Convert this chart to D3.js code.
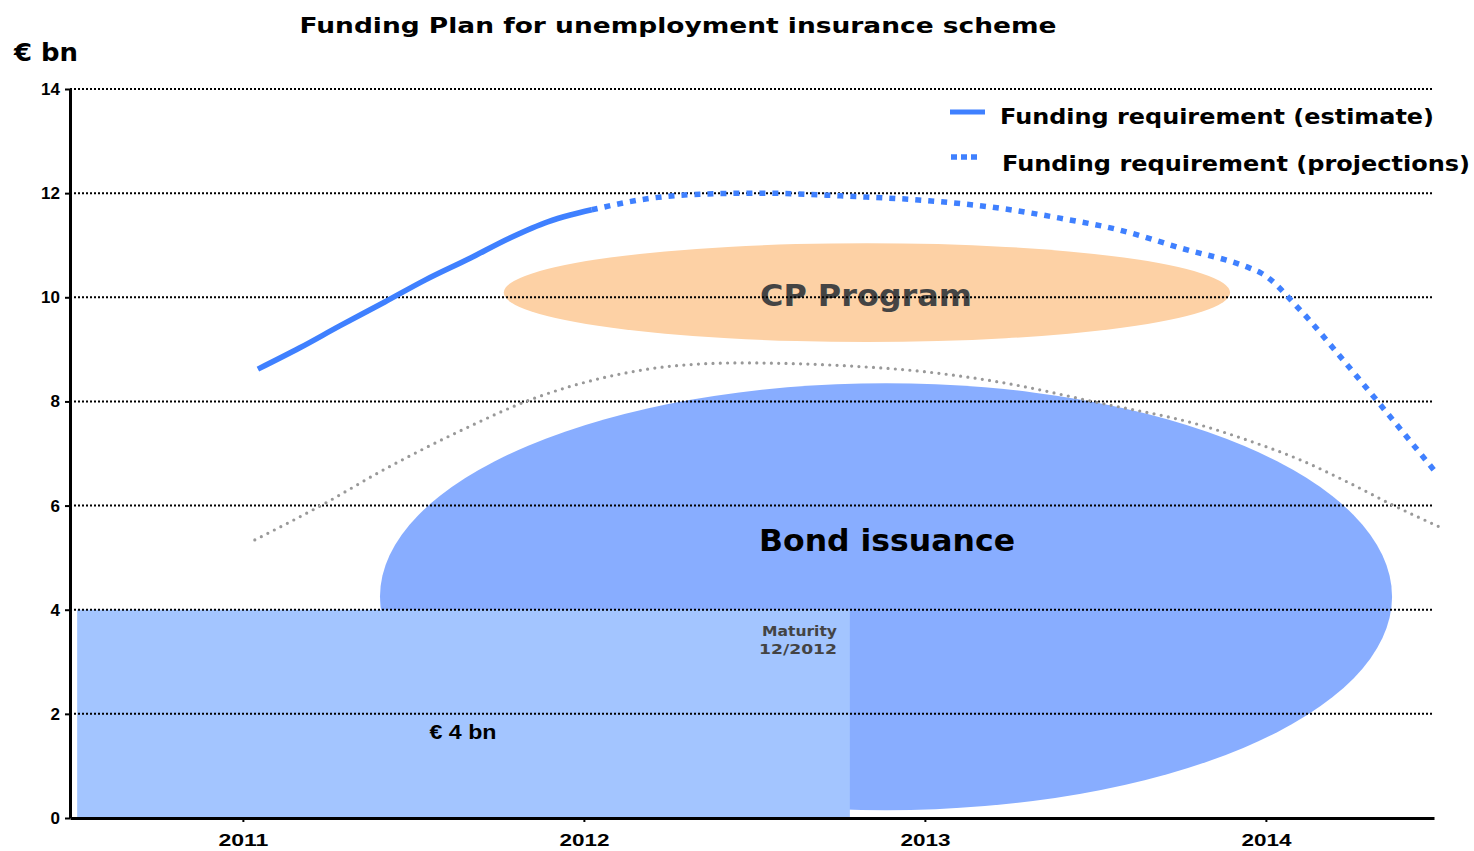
<!DOCTYPE html>
<html>
<head>
<meta charset="utf-8">
<script src="https://cdn.jsdelivr.net/npm/d3@7"></script>
<style>
  body { margin: 0; background: #fff; }
  svg { display: block; font-family: "DejaVu Sans", Verdana, sans-serif; font-weight: bold; }
</style>
</head>
<body>
<svg></svg>
<script>
const width = 1474;
const height = 851;
const margin = { top: 89, right: 40, bottom: 33, left: 70 };

// Year ticks and y ticks
const years = [2011, 2012, 2013, 2014];
const yTicks = [0, 2, 4, 6, 8, 10, 12, 14];

// Funding requirement (estimate) - solid
const estYears = [2011.044, 2011.167, 2011.284, 2011.416, 2011.534, 2011.666, 2011.783, 2011.894, 2011.96, 2012.023];
const estValues = [8.62, 9.03, 9.45, 9.91, 10.33, 10.75, 11.14, 11.45, 11.58, 11.68];

// Funding requirement (projections) - dotted
const projYears = [2012.023, 2012.194, 2012.34, 2012.516, 2012.78, 2013.0, 2013.22, 2013.396, 2013.572, 2013.748, 2013.953, 2013.985, 2014.1, 2014.217, 2014.334, 2014.493];
const projValues = [11.68, 11.9, 11.98, 12.0, 11.94, 11.86, 11.71, 11.52, 11.29, 10.95, 10.56, 10.47, 9.76, 8.87, 7.95, 6.68];

// Grey dotted curve
const greyYears = [2011.035, 2011.226, 2011.422, 2011.636, 2011.85, 2012.067, 2012.261, 2012.457, 2012.78, 2013.0, 2013.22, 2013.513, 2013.806, 2013.953, 2014.1, 2014.246, 2014.372, 2014.516];
const greyValues = [5.34, 5.99, 6.72, 7.43, 8.05, 8.47, 8.68, 8.74, 8.68, 8.57, 8.37, 7.97, 7.55, 7.24, 6.88, 6.43, 6.01, 5.57];

// Existing € 4 bn block (years, value)
const blockYears = [2010.514, 2012.78];
const blockValue = 4;

// Ellipses: [centre year, centre value, radius in years, radius in value]
const bondEllipse = [2012.886, 4.25, 1.484, 4.1];
const cpEllipse = [2012.83, 10.09, 1.065, 0.95];

const svg = d3.select("svg").attr("width", width).attr("height", height);

const x = d3.scaleLinear()
  .domain([2010.493, 2014.493])
  .range([margin.left, width - margin.right]);

const y = d3.scaleLinear()
  .domain([0, 14])
  .range([height - margin.bottom, margin.top]);

// Verdana is wider than DejaVu, so stretch text to the reference widths
function label(txt, px, py, size, len, anchor, fill) {
  return svg.append("text")
    .attr("x", px)
    .attr("y", py)
    .attr("text-anchor", anchor || "start")
    .attr("textLength", len)
    .attr("lengthAdjust", "spacingAndGlyphs")
    .style("font-size", size + "px")
    .attr("fill", fill || "#000")
    .text(txt);
}

// Bond issuance ellipse
svg.append("ellipse")
  .attr("cx", x(bondEllipse[0]))
  .attr("cy", y(bondEllipse[1]))
  .attr("rx", x(bondEllipse[0] + bondEllipse[2]) - x(bondEllipse[0]))
  .attr("ry", y(0) - y(bondEllipse[3]))
  .attr("fill", "#88adff");

// € 4 bn block
svg.append("rect")
  .attr("x", x(blockYears[0]))
  .attr("y", y(blockValue))
  .attr("width", x(blockYears[1]) - x(blockYears[0]))
  .attr("height", y(0) - y(blockValue))
  .attr("fill", "#a3c5ff");

// CP Program ellipse
svg.append("ellipse")
  .attr("cx", x(cpEllipse[0]))
  .attr("cy", y(cpEllipse[1]))
  .attr("rx", x(cpEllipse[0] + cpEllipse[2]) - x(cpEllipse[0]))
  .attr("ry", y(0) - y(cpEllipse[3]))
  .attr("fill", "#fdd1a5");

// Labels inside shapes
label("CP Program", 866, 306, 30, 212, "middle", "#444");
label("Bond issuance", 887, 551, 30, 256, "middle");
label("€ 4 bn", 463, 739, 21, 67, "middle")
  .style("font-family", "'Liberation Sans', Arial, sans-serif");
label("Maturity", 837, 636, 14, 75, "end", "#444");
label("12/2012", 837, 654, 14, 78, "end", "#444");

// Dotted grid lines
svg.append("g")
  .selectAll("line")
  .data(yTicks.filter((d) => d > 0))
  .join("line")
  .attr("x1", margin.left)
  .attr("x2", width - margin.right)
  .attr("y1", (d) => y(d))
  .attr("y2", (d) => y(d))
  .attr("stroke", "#000")
  .attr("stroke-width", 2)
  .attr("stroke-dasharray", "2,2");

// Grey dotted curve
const line = d3.line()
  .x((d) => x(d[0]))
  .y((d) => y(d[1]))
  .curve(d3.curveMonotoneX);

svg.append("path")
  .attr("d", line(d3.zip(greyYears, greyValues)))
  .attr("fill", "none")
  .attr("stroke", "#999")
  .attr("stroke-width", 3.2)
  .attr("stroke-linecap", "round")
  .attr("stroke-dasharray", "0,7.3");

// Funding requirement lines
svg.append("path")
  .attr("d", line(d3.zip(estYears, estValues)))
  .attr("fill", "none")
  .attr("stroke", "#3f80ff")
  .attr("stroke-width", 5.5);

svg.append("path")
  .attr("d", line(d3.zip(projYears, projValues)))
  .attr("fill", "none")
  .attr("stroke", "#3f80ff")
  .attr("stroke-width", 5.5)
  .attr("stroke-dasharray", "6,7");

// Axes
const xAxis = svg.append("g")
  .attr("transform", `translate(0,${y(0)})`)
  .call(d3.axisBottom(x).tickValues(years).tickFormat(d3.format("d")).tickSize(4).tickSizeOuter(0));
xAxis.select(".domain").attr("stroke-width", 3);
xAxis.selectAll(".tick line").attr("stroke-width", 2);
xAxis.selectAll(".tick text")
  .style("font-size", "16px")
  .attr("textLength", 50)
  .attr("lengthAdjust", "spacingAndGlyphs")
  .attr("fill", "#000")
  .attr("y", 14)
  .attr("dy", "0.9em");

const yAxis = svg.append("g")
  .attr("transform", `translate(${margin.left},0)`)
  .call(d3.axisLeft(y).tickValues(yTicks).tickSize(5).tickSizeOuter(0));
yAxis.select(".domain").attr("stroke-width", 3);
yAxis.selectAll(".tick line").attr("stroke-width", 2);
yAxis.selectAll(".tick text")
  .style("font-size", "17px")
  .attr("fill", "#000")
  .attr("x", -10);

// Title and unit label
label("Funding Plan for unemployment insurance scheme", 678, 33, 22, 757, "middle");
label("€ bn", 14, 61, 24, 64);

// Legend
const legend = svg.append("g");
legend.append("line")
  .attr("x1", 950).attr("x2", 985)
  .attr("y1", 112).attr("y2", 112)
  .attr("stroke", "#3f80ff")
  .attr("stroke-width", 5);
label("Funding requirement (estimate)", 1000, 124, 21, 434);
legend.append("line")
  .attr("x1", 951).attr("x2", 981)
  .attr("y1", 157).attr("y2", 157)
  .attr("stroke", "#3f80ff")
  .attr("stroke-width", 5.5)
  .attr("stroke-dasharray", "6,4");
label("Funding requirement (projections)", 1002, 171, 21, 468);
</script>
</body>
</html>
